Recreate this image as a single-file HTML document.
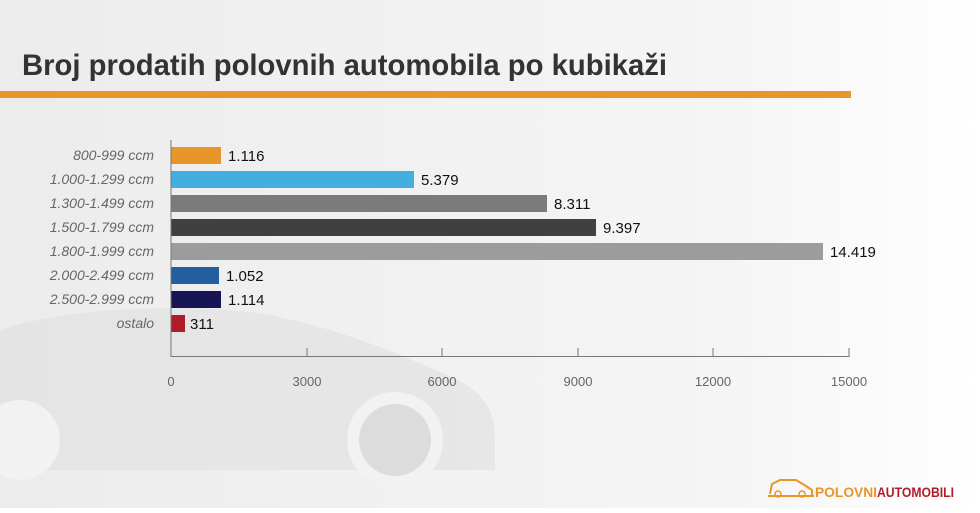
<!DOCTYPE html>
<html><head><meta charset="utf-8"><style>
body{margin:0;width:980px;height:508px;overflow:hidden;font-family:"Liberation Sans",sans-serif;}
</style></head><body>
<svg width="980" height="508" xmlns="http://www.w3.org/2000/svg">
<defs><linearGradient id="bg" x1="0" x2="1" y1="0" y2="0"><stop offset="0" stop-color="#ececec"/><stop offset="0.75" stop-color="#f5f5f5"/><stop offset="1" stop-color="#ffffff"/></linearGradient></defs>
<rect width="980" height="508" fill="url(#bg)"/>
<path d="M0 330 C60 310 150 305 230 310 C300 315 380 345 440 372 C480 388 495 405 495 440 L495 470 L0 470 Z" fill="#e0e0e0" opacity="0.6"/>
<circle cx="395" cy="440" r="48" fill="#f2f2f2"/><circle cx="395" cy="440" r="36" fill="#dcdcdc"/>
<circle cx="20" cy="440" r="40" fill="#f2f2f2"/>
<text x="22" y="75" font-size="30" font-weight="bold" fill="#333" textLength="645" lengthAdjust="spacingAndGlyphs">Broj prodatih polovnih automobila po kubikaži</text>
<rect x="0" y="91" width="851" height="7" fill="#e8962a"/>
<g font-size="14" font-style="italic" fill="#666" text-anchor="end">
<text x="154" y="160">800-999 ccm</text><text x="154" y="184">1.000-1.299 ccm</text><text x="154" y="208">1.300-1.499 ccm</text><text x="154" y="232">1.500-1.799 ccm</text><text x="154" y="256">1.800-1.999 ccm</text><text x="154" y="280">2.000-2.499 ccm</text><text x="154" y="304">2.500-2.999 ccm</text><text x="154" y="328">ostalo</text>
</g>
<rect x="171" y="147" width="50" height="17" fill="#e8962a"/>
<rect x="171" y="171" width="243" height="17" fill="#45aee0"/>
<rect x="171" y="195" width="376" height="17" fill="#7b7b7b"/>
<rect x="171" y="219" width="425" height="17" fill="#404040"/>
<rect x="171" y="243" width="652" height="17" fill="#9c9c9c"/>
<rect x="171" y="267" width="48" height="17" fill="#235e9e"/>
<rect x="171" y="291" width="50" height="17" fill="#171555"/>
<rect x="171" y="315" width="14" height="17" fill="#b01c2a"/>
<g font-size="15" fill="#111">
<text x="228" y="161">1.116</text><text x="421" y="185">5.379</text><text x="554" y="209">8.311</text><text x="603" y="233">9.397</text><text x="830" y="257">14.419</text><text x="226" y="281">1.052</text><text x="228" y="305">1.114</text><text x="190" y="329">311</text>
</g>
<g stroke="#777" stroke-width="1">
<line x1="171" y1="140" x2="171" y2="357"/><line x1="171" y1="356.5" x2="849" y2="356.5"/>
<line x1="307" y1="348" x2="307" y2="357"/><line x1="442" y1="348" x2="442" y2="357"/><line x1="578" y1="348" x2="578" y2="357"/><line x1="713" y1="348" x2="713" y2="357"/><line x1="849" y1="348" x2="849" y2="357"/>
</g>
<g font-size="13" fill="#666" text-anchor="middle">
<text x="171" y="386">0</text><text x="307" y="386">3000</text><text x="442" y="386">6000</text><text x="578" y="386">9000</text><text x="713" y="386">12000</text><text x="849" y="386">15000</text>
</g>
<path d="M770 494 L772 484 L780 480 L796 480 L806 486 L812 490 L812 496 M768 496 L814 496" stroke="#e8962a" stroke-width="2" fill="none"/>
<circle cx="778" cy="494" r="3" fill="none" stroke="#e8962a" stroke-width="1.5"/><circle cx="802" cy="494" r="3" fill="none" stroke="#e8962a" stroke-width="1.5"/>
<text x="815" y="497" font-size="14" font-weight="bold" fill="#e8962a" textLength="62" lengthAdjust="spacingAndGlyphs">POLOVNI</text>
<text x="877" y="497" font-size="14" font-weight="bold" fill="#b01c2a" textLength="77" lengthAdjust="spacingAndGlyphs">AUTOMOBILI</text>
</svg>
</body></html>
